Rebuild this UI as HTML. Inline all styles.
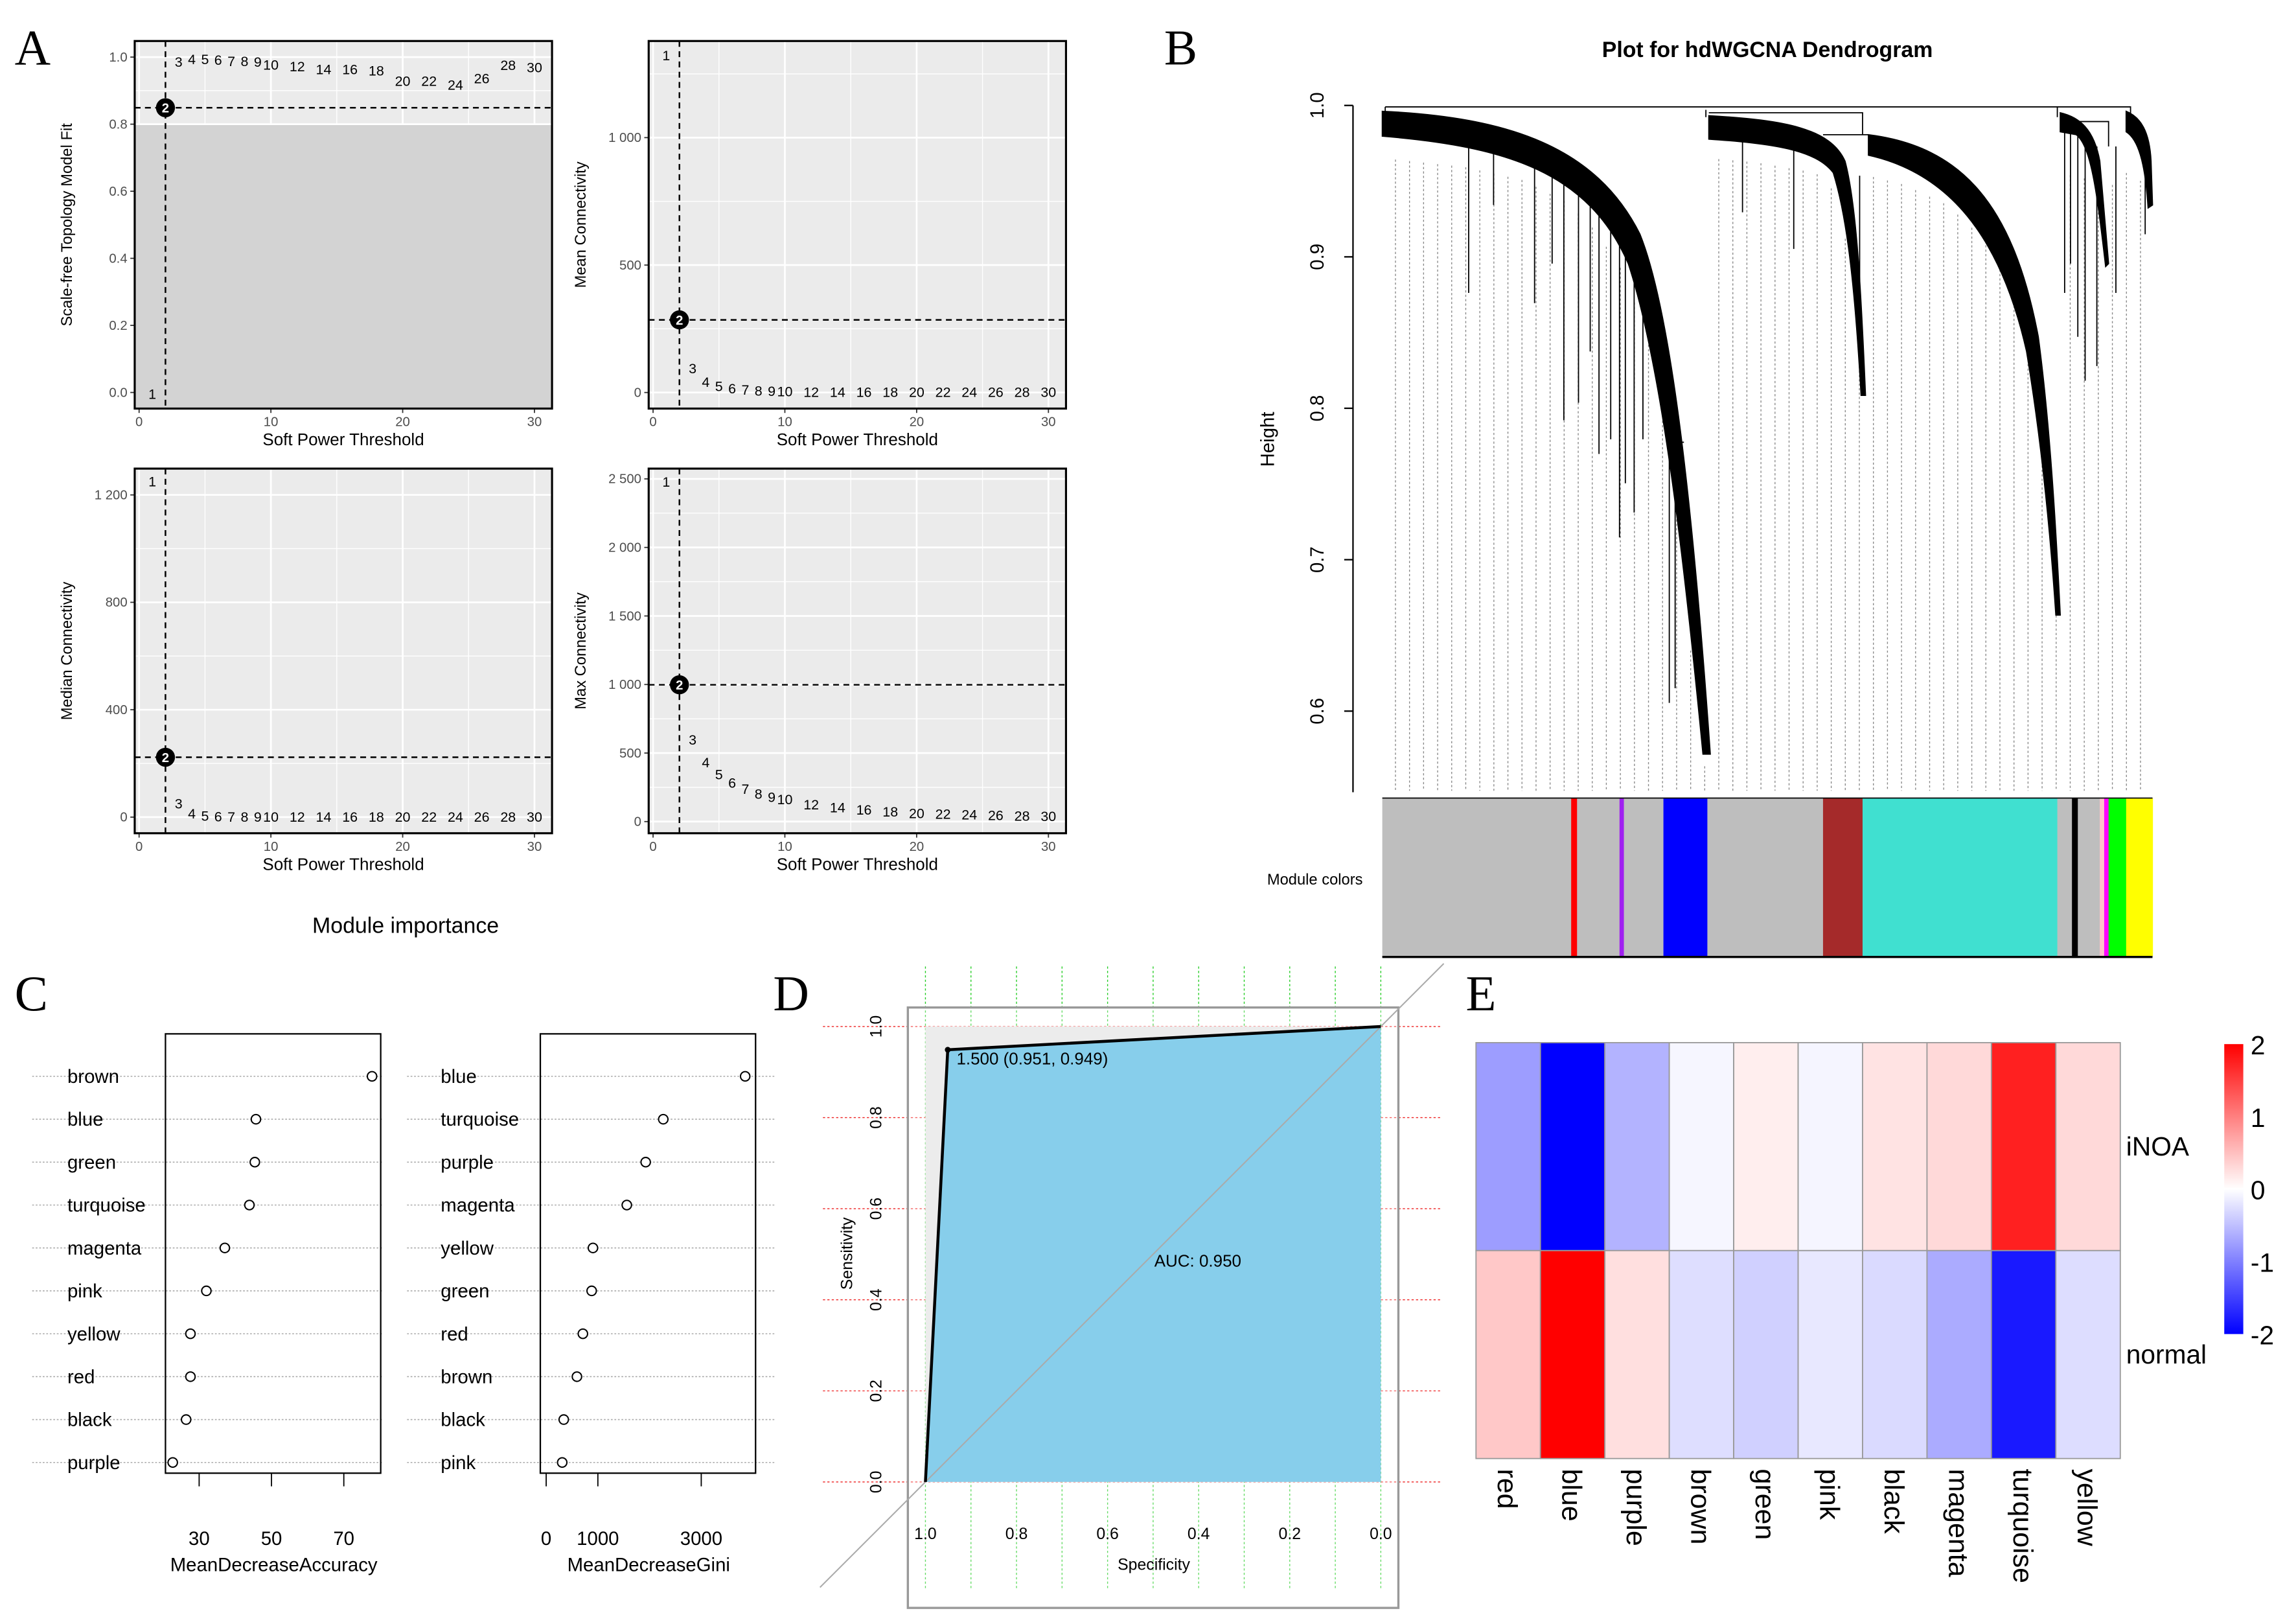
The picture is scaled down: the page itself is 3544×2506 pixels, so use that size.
<!DOCTYPE html>
<html><head><meta charset="utf-8"><style>
html,body{margin:0;padding:0;background:#fff;}
svg{display:block;font-family:"Liberation Sans",sans-serif;}
</style></head><body>
<svg id="fig" xmlns="http://www.w3.org/2000/svg" width="3544" height="2506" viewBox="0 0 1568 1109" preserveAspectRatio="none">
<g font-family="Liberation Serif,serif" font-size="34" fill="#000">
<text x="10" y="44">A</text>
<text x="795" y="44">B</text>
<text x="10" y="690">C</text>
<text x="528" y="690">D</text>
<text x="1001" y="690">E</text>
</g>
<g id="pa"></g>
<g id="pb"></g>
<g id="pc"></g>
<g id="pd"></g>
<g id="pe"></g>
</svg>
<script>
// ---------- Panel A data ----------
const powers = [1,2,3,4,5,6,7,8,9,10,12,14,16,18,20,22,24,26,28,30];
const sftFit = [-0.005,0.849,0.986,0.993,0.993,0.991,0.988,0.988,0.986,0.977,0.972,0.963,0.963,0.96,0.929,0.929,0.917,0.936,0.976,0.969];
const meanK = [1322,285,94,41,25,16,11,7,5,4,2,2,1,1,1,1,1,1,1,1];
const medianK = [1250,223,50,13,4,2,1,1,1,1,1,1,1,1,1,1,1,1,1,1];
const maxK = [2479,998,596,431,343,283,237,203,178,161,123,102,85,72,59,55,51,47,42,38];
const xTicks = [0,10,20,30];
const fitTicks = [0,0.2,0.4,0.6,0.8,1.0];
const fitTickLabels = ["0.0","0.2","0.4","0.6","0.8","1.0"];
const meanTicks = [0,500,1000];
const meanTickLabels = ["0","500","1 000"];
const medTicks = [0,400,800,1200];
const medTickLabels = ["0","400","800","1 200"];
const maxTicks = [0,500,1000,1500,2000,2500];
const maxTickLabels = ["0","500","1 000","1 500","2 000","2 500"];
const selectedPower = 2;
const fitCutoff = 0.8;
// ---------- Panel C data ----------
const accModules = ["brown","blue","green","turquoise","magenta","pink","yellow","red","black","purple"];
const accValues = [77.8,45.7,45.4,43.9,37.1,32,27.6,27.6,26.4,22.7];
const accTicks = [30,50,70];
const giniModules = ["blue","turquoise","purple","magenta","yellow","green","red","brown","black","pink"];
const giniValues = [3850,2265,1925,1560,905,880,710,595,340,310];
const giniTicks = [0,1000,3000];
// ---------- Panel D data ----------
const rocSpec = [1.0,0.951,0.0];
const rocSens = [0.0,0.949,1.0];
const rocTicks = [0,0.2,0.4,0.6,0.8,1.0];
const rocTickLabels = ["0.0","0.2","0.4","0.6","0.8","1.0"];
const aucValue = 0.950;
// ---------- Panel E data ----------
const heatCols = ["red","blue","purple","brown","green","pink","black","magenta","turquoise","yellow"];
const heatRows = ["iNOA","normal"];
const heatINOA = [-0.77,-2.0,-0.6,-0.07,0.13,-0.08,0.22,0.3,1.75,0.3];
const heatNormal = [0.43,2.0,0.25,-0.26,-0.37,-0.18,-0.29,-0.66,-1.8,-0.27];
const legendTicks = [2,1,0,-1,-2];
// ---------- Panel B data ----------
const moduleNames = ["grey","red","grey","purple","grey","blue","grey","brown","turquoise","grey","black","grey","pink","magenta","green","yellow"];
const moduleWidths = [129,4,29,3,27,30,79,27,133,10,4,15,3,3,12,18];
const moduleFill = {grey:"#bebebe",red:"#ff0000",purple:"#a020f0",blue:"#0000ff",brown:"#a52a2a",turquoise:"#40e0d0",black:"#000000",pink:"#ffc0cb",magenta:"#ff00ff",green:"#00ff00",yellow:"#ffff00"};
const hTicks = [0.6,0.7,0.8,0.9,1.0];

const NS="http://www.w3.org/2000/svg";
function mk(tag, attrs, parent, txt){const e=document.createElementNS(NS,tag);for(const k in attrs)e.setAttribute(k,attrs[k]);if(txt!==undefined)e.textContent=txt;parent.appendChild(e);return e;}

// ================= PANEL A =================
const pa=document.getElementById('pa');
function soft(cfg){
  const g=mk('g',{},pa);
  
  
  const L=cfg.left,T=cfg.top,W=285,H=cfg.h;
  const xs=v=>L+3+v*9;
  const ys=v=>T+H-(v-cfg.ymin)/(cfg.ymax-cfg.ymin)*H;
  const bg=mk('rect',{x:L,y:T,width:W,height:H,fill:'#ebebeb'},g);
  
  
  if(cfg.cut!==undefined){
    const sh=mk('rect',{x:L,y:ys(cfg.cut),width:W,height:T+H-ys(cfg.cut),fill:'#d3d3d3'},g);
    
    
  }
  for(let i=0;i<cfg.ticks.length;i++){
    const v=cfg.ticks[i]+(cfg.ticks[1]-cfg.ticks[0])/2;
    if(v<cfg.ymax&&!(cfg.cut!==undefined&&v<cfg.cut)){const ln=mk('line',{x1:L,x2:L+W,y1:ys(v),y2:ys(v),stroke:'#fff','stroke-width':0.6},g);
    
    }
  }
  [5,15,25].forEach(v=>{const ln=mk('line',{x1:xs(v),x2:xs(v),y1:T,y2:(cfg.cut!==undefined?ys(cfg.cut):T+H),stroke:'#fff','stroke-width':0.6},g);
    
    });
  cfg.ticks.forEach((v,i)=>{
    if(!(cfg.cut!==undefined&&v<cfg.cut)){const ln=mk('line',{x1:L,x2:L+W,y1:ys(v),y2:ys(v),stroke:'#fff','stroke-width':1.2},g);
    
    }
    const tk=mk('line',{x1:L-3,x2:L,y1:ys(v),y2:ys(v),stroke:'#333','stroke-width':0.8},g);
    
    
    const t=mk('text',{x:L-5,y:ys(v)+3,'text-anchor':'end','font-size':9,fill:'#4d4d4d'},g,cfg.labels[i]);
    
    
  });
  xTicks.forEach(v=>{
    const ln=mk('line',{x1:xs(v),x2:xs(v),y1:T,y2:(cfg.cut!==undefined?ys(cfg.cut):T+H),stroke:'#fff','stroke-width':1.2},g);
    
    
    const tk=mk('line',{x1:xs(v),x2:xs(v),y1:T+H,y2:T+H+3,stroke:'#333','stroke-width':0.8},g);
    
    
    const t=mk('text',{x:xs(v),y:T+H+12,'text-anchor':'middle','font-size':9,fill:'#4d4d4d'},g,String(v));
    
    
  });
  const si=powers.indexOf(selectedPower);
  const vl=mk('line',{x1:xs(selectedPower),x2:xs(selectedPower),y1:T,y2:T+H,stroke:'#000','stroke-width':1.1,'stroke-dasharray':'4,3'},g);
  
  
  const hl=mk('line',{x1:L,x2:L+W,y1:ys(cfg.data[si]),y2:ys(cfg.data[si]),stroke:'#000','stroke-width':1.1,'stroke-dasharray':'4,3'},g);
  
  
  powers.forEach((p,i)=>{
    if(p===selectedPower){
      const c=mk('circle',{cx:xs(p),cy:ys(cfg.data[i]),r:6.5,fill:'#000'},g);
      
      
      const t=mk('text',{x:xs(p),y:ys(cfg.data[i])+3.3,'text-anchor':'middle','font-size':9,fill:'#fff','font-weight':'bold'},g,String(p));
      
      
    } else {
      const t=mk('text',{x:xs(p),y:ys(cfg.data[i])+3.3,'text-anchor':'middle','font-size':9.5,fill:'#000'},g,String(p));
      
      
    }
  });
  const bd=mk('rect',{x:L,y:T,width:W,height:H,fill:'none',stroke:'#000','stroke-width':1.4},g);
  
  
  const xt=mk('text',{x:L+W/2,y:T+H+25,'text-anchor':'middle','font-size':11.5,fill:'#000'},g,'Soft Power Threshold');
  
  
  const yt=mk('text',{x:0,y:0,'text-anchor':'middle','font-size':10.5,fill:'#000',transform:`translate(${cfg.ytx},${T+H/2}) rotate(-90)`},g,cfg.ytitle);
  
  
}
soft({name:'scale-free-fit-plot',left:92,top:28,h:251,ymin:-0.048,ymax:1.048,ticks:fitTicks,labels:fitTickLabels,data:sftFit,cut:fitCutoff,ytitle:'Scale-free Topology Model Fit',ytx:49});
soft({name:'mean-connectivity-plot',left:443,top:28,h:251,ymin:-63,ymax:1379,ticks:meanTicks,labels:meanTickLabels,data:meanK,ytitle:'Mean Connectivity',ytx:400});
soft({name:'median-connectivity-plot',left:92,top:320,h:249,ymin:-60,ymax:1298,ticks:medTicks,labels:medTickLabels,data:medianK,ytitle:'Median Connectivity',ytx:49});
soft({name:'max-connectivity-plot',left:443,top:320,h:249,ymin:-85,ymax:2575,ticks:maxTicks,labels:maxTickLabels,data:maxK,ytitle:'Max Connectivity',ytx:400});

// ================= PANEL B =================
const pb=document.getElementById('pb');
const hy=h=>72+(1.0-h)*1034;
const bt=mk('text',{x:1207,y:39,'text-anchor':'middle','font-size':15,'font-weight':'bold'},pb,'Plot for hdWGCNA Dendrogram');


const bax=mk('line',{x1:924,x2:924,y1:hy(1.0),y2:541,stroke:'#000','stroke-width':1},pb);


hTicks.forEach(v=>{
  const tk=mk('line',{x1:918,x2:924,y1:hy(v),y2:hy(v),stroke:'#000','stroke-width':1},pb);
  
  
  const t=mk('text',{x:0,y:0,'text-anchor':'middle','font-size':13,transform:`translate(${904},${hy(v)}) rotate(-90)`},pb,v.toFixed(1));
  
  
});
const hlab=mk('text',{x:0,y:0,'text-anchor':'middle','font-size':13,transform:'translate(870,300) rotate(-90)'},pb,'Height');


const dl=mk('g',{stroke:'#888','stroke-width':0.6,'stroke-dasharray':'1.5,1.5'},pb);


const lowerEdges=[[944,100],[1000,106],[1040,115],[1070,130],[1090,150],[1110,180],[1126,228],[1140,300],[1155,440],[1166,530],[1167,100],[1200,103],[1240,110],[1255,125],[1268,200],[1276,112],[1300,118],[1330,132],[1360,160],[1380,205],[1395,285],[1405,420],[1407,110],[1450,120],[1452,110],[1470,120]];
function topAt(x){let best=lowerEdges[0];for(const p of lowerEdges){if(p[0]<=x)best=p;}let nxt=lowerEdges.find(p=>p[0]>x)||best;if(nxt[0]<best[0]||nxt[1]<best[1]-60)return best[1];const t=(x-best[0])/Math.max(1,nxt[0]-best[0]);return best[1]+(nxt[1]-best[1])*t;}
for(let x=953;x<1470;x+=9.6){mk('line',{x1:x,x2:x,y1:topAt(x)+8,y2:540},dl);}
const dg=mk('g',{fill:'#000',stroke:'#000','stroke-width':0.8},pb);


const shapes=[
 "M944,76 C1030,80 1090,100 1120,160 C1140,210 1155,330 1168,515 L1163,515 C1150,380 1135,250 1112,180 C1085,118 1030,100 944,93 Z",
 "M1167,79 C1220,82 1250,88 1260,110 C1268,140 1271,200 1274,270 L1271,270 C1267,200 1262,150 1252,118 C1240,102 1210,98 1167,95 Z",
 "M1276,92 C1340,100 1375,140 1392,230 C1400,290 1404,360 1407,420 L1404,420 C1400,360 1394,300 1384,240 C1366,160 1330,118 1276,106 Z",
 "M1407,77 C1420,80 1430,88 1434,110 L1440,180 L1438,182 C1432,130 1428,100 1418,92 L1407,90 Z",
 "M1452,76 C1462,80 1468,90 1469,110 L1470,140 L1467,142 C1465,110 1460,95 1452,90 Z"];
shapes.forEach(d=>{mk('path',{d:d},dg);});
const thin=mk('g',{stroke:'#000','stroke-width':0.8,fill:'none'},pb);


[[1003,88,200],[1020,92,140],[1048,98,207],[1060,104,180],[1068,110,287],[1078,116,275],[1086,124,240],[1092,130,310],[1100,140,300],[1106,150,367],[1110,158,330],[1116,170,350],[1122,185,300],[1140,300,480],[1144,306,470],[1190,88,145],[1225,95,170],[1270,120,250],[1419,90,230],[1424,90,260],[1432,100,250],[1445,100,200],[1465,95,160],[1410,90,200],[1414,90,180]].forEach(a=>{mk('line',{x1:a[0],x2:a[0],y1:a[1],y2:a[2]},thin);});
["M946,73 L1405,73 L1405,80","M1165,75 L1165,80","M946,73 L946,80","M1405,73 L1455,73 L1455,78","M1167,77 L1272,77 L1272,92","M1245,92 L1276,92","M1138,302 L1150,302","M1420,83 L1440,83 L1440,100"].forEach(d=>{mk('path',{d:d},thin);});
let mx=944;
moduleNames.forEach((m,i)=>{
  const r=mk('rect',{x:mx,y:545,width:moduleWidths[i]+0.3,height:108,fill:moduleFill[m]},pb);
  
  
  mx+=moduleWidths[i];
});
const mbl=mk('line',{x1:944,x2:1470,y1:545,y2:545,stroke:'#000','stroke-width':0.8},pb);


const mbb=mk('line',{x1:944,x2:1470,y1:653.5,y2:653.5,stroke:'#000','stroke-width':1.5},pb);


const ml=mk('text',{x:898,y:604,'text-anchor':'middle','font-size':10.5},pb,'Module colors');



// ================= PANEL C =================
const pc=document.getElementById('pc');
const ct=mk('text',{x:277,y:637,'text-anchor':'middle','font-size':15},pc,'Module importance');


const rowY=i=>735+i*29.3;
function dotchart(cfg){
  const g=mk('g',{},pc);
  
  
  const xs=v=>cfg.x0+(v-cfg.v0)*cfg.k;
  cfg.mods.forEach((m,i)=>{
    const ln=mk('line',{x1:cfg.lx,x2:cfg.rx,y1:rowY(i),y2:rowY(i),stroke:'#aaa','stroke-width':0.7,'stroke-dasharray':'1.2,1.2'},g);
    
    
    const t=mk('text',{x:cfg.tx,y:rowY(i)+4.5,'font-size':13},g,m);
    
    
    const c=mk('circle',{cx:xs(cfg.vals[i]),cy:rowY(i),r:3.2,fill:'#fff',stroke:'#000','stroke-width':0.9},g);
    
    
  });
  const b=mk('rect',{x:cfg.bx,y:706,width:147,height:300,fill:'none',stroke:'#000','stroke-width':1},g);
  
  
  cfg.ticks.forEach(v=>{
    const tk=mk('line',{x1:xs(v),x2:xs(v),y1:1006,y2:1015,stroke:'#000','stroke-width':0.8},g);
    
    
    const t=mk('text',{x:xs(v),y:1055,'text-anchor':'middle','font-size':13},g,String(v));
    
    
  });
  const xt=mk('text',{x:cfg.bx+74,y:1073,'text-anchor':'middle','font-size':13},g,cfg.title);
  
  
}
dotchart({name:'accuracy-dotchart',mods:accModules,vals:accValues,ticks:accTicks,x0:136,v0:30,k:2.47,lx:22,rx:262,tx:46,bx:113,title:'MeanDecreaseAccuracy'});
dotchart({name:'gini-dotchart',mods:giniModules,vals:giniValues,ticks:giniTicks,x0:373,v0:0,k:0.0353,lx:278,rx:530,tx:301,bx:369,title:'MeanDecreaseGini'});

// ================= PANEL D =================
const pd=document.getElementById('pd');
const sx=v=>943-v*311;
const sy=v=>1012-v*311;
for(let i=0;i<=10;i++){const v=i/10;const ln=mk('line',{x1:sx(v),x2:sx(v),y1:660,y2:1085,stroke:'#22cc22','stroke-width':0.6,'stroke-dasharray':'1.5,1.5'},pd);
  
  }
rocTicks.forEach(v=>{const ln=mk('line',{x1:562,x2:985,y1:sy(v),y2:sy(v),stroke:'#ee2222','stroke-width':0.6,'stroke-dasharray':'1.5,1.5'},pd);
  
  });
const frame=mk('rect',{x:620,y:688,width:335,height:410,fill:'#fff','fill-opacity':0.3,stroke:'#999','stroke-width':1.5},pd);


const ci=mk('rect',{x:sx(1),y:sy(1),width:sx(0)-sx(1),height:sy(0)-sy(1),fill:'#ececec'},pd);


let pts=rocSpec.map((s,i)=>sx(s)+','+sy(rocSens[i])).join(' ')+' '+sx(0)+','+sy(0);
const auc=mk('polygon',{points:pts,fill:'#87ceeb'},pd);


const diag=mk('line',{x1:560,x2:986,y1:sy(0)+(sx(1)-560),y2:sy(1)-(986-sx(0)),stroke:'#aaa','stroke-width':0.9},pd);


const roc=mk('polyline',{points:rocSpec.map((s,i)=>sx(s)+','+sy(rocSens[i])).join(' '),fill:'none',stroke:'#000','stroke-width':2},pd);


const bp=mk('circle',{cx:sx(rocSpec[1]),cy:sy(rocSens[1]),r:2,fill:'#000'},pd);


const bpl=mk('text',{x:sx(rocSpec[1])+6,y:sy(rocSens[1])+10,'font-size':11.5},pd,'1.500 ('+rocSpec[1].toFixed(3)+', '+rocSens[1].toFixed(3)+')');


const at=mk('text',{x:818,y:865,'text-anchor':'middle','font-size':11.5},pd,'AUC: '+aucValue.toFixed(3));


rocTicks.forEach((v,i)=>{
  const t=mk('text',{x:0,y:0,'text-anchor':'middle','font-size':11,transform:`translate(${602},${sy(v)}) rotate(-90)`},pd,rocTickLabels[i]);
  
  
  const t2=mk('text',{x:sx(v),y:1051,'text-anchor':'middle','font-size':11},pd,rocTickLabels[i]);
  
  
});
const st=mk('text',{x:0,y:0,'text-anchor':'middle','font-size':11,transform:'translate(582,856) rotate(-90)'},pd,'Sensitivity');


const spt=mk('text',{x:788,y:1072,'text-anchor':'middle','font-size':11},pd,'Specificity');



// ================= PANEL E =================
const pe=document.getElementById('pe');
function heatColor(v){const t=Math.min(1,Math.abs(v)/2);const c=Math.round(255*(1-t));return v>=0?`rgb(255,${c},${c})`:`rgb(${c},${c},255)`;}
const cw=44,hx0=1008,hy0=712,rh=142;
[heatINOA,heatNormal].forEach((row,r)=>{
  row.forEach((v,i)=>{
    const c=mk('rect',{x:hx0+i*cw,y:hy0+r*rh,width:cw,height:rh,fill:heatColor(v),stroke:'#999','stroke-width':0.8},pe);
    
    
  });
  const t=mk('text',{x:1452,y:hy0+r*rh+rh/2+6,'font-size':18},pe,heatRows[r]);
  
  
});
heatCols.forEach((m,i)=>{
  const t=mk('text',{x:0,y:0,'font-size':19,transform:`translate(${hx0+i*cw+cw/2-7},1003) rotate(90)`},pe,m);
  
  
});
const defs=mk('defs',{},pe);
const lg=mk('linearGradient',{id:'lg',x1:0,y1:0,x2:0,y2:1},defs);
mk('stop',{offset:'0','stop-color':'#ff0000'},lg);
mk('stop',{offset:'0.5','stop-color':'#ffffff'},lg);
mk('stop',{offset:'1','stop-color':'#0000ff'},lg);
const lb=mk('rect',{x:1519,y:713,width:13,height:198,fill:'url(#lg)'},pe);


legendTicks.forEach(v=>{
  const y=713+(2-v)/4*198;
  const t=mk('text',{x:1537,y:y+7,'font-size':18},pe,String(v));
  
  
});
</script>
</body></html>
